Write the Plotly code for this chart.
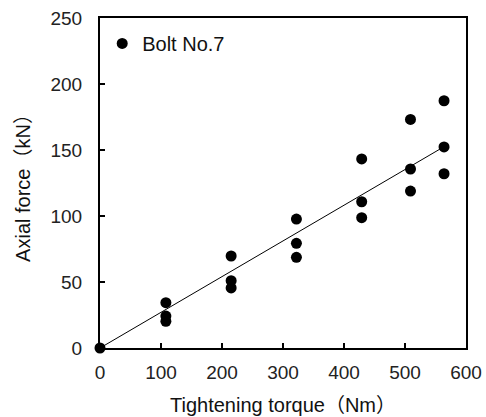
import plotly.graph_objects as go

torque = [0, 108, 108, 108, 215, 215, 215, 322, 322, 322, 429, 429, 429, 509, 509, 509, 564, 564, 564]
axial = [0, 34.3, 24.2, 20.2, 69.7, 51, 45.5, 97.7, 79.3, 68.7, 143.2, 110.8, 98.7, 173.2, 135.6, 118.9, 187.3, 152.3, 132]
trend_x = [0, 564]
trend_y = [0, 152.5]
x_ticks = [0, 100, 200, 300, 400, 500, 600]
y_ticks = [0, 50, 100, 150, 200, 250]

FONT = "Liberation Sans, Noto Sans CJK JP"

fig = go.Figure()
fig.add_trace(go.Scatter(x=trend_x, y=trend_y, mode="lines",
                         line=dict(color="black", width=1), showlegend=False,
                         hoverinfo="skip"))
fig.add_trace(go.Scatter(x=torque, y=axial, mode="markers", name="Bolt No.7",
                         marker=dict(color="black", size=11), cliponaxis=False))

fig.update_layout(
    width=486, height=417,
    margin=dict(l=100, r=20, t=18, b=69, autoexpand=False),
    paper_bgcolor="white", plot_bgcolor="white",
    font=dict(family=FONT, size=19, color="#222"),
    legend=dict(x=0.006, y=0.982, xanchor="left", yanchor="top",
                bgcolor="rgba(0,0,0,0)", font=dict(size=20, color="#111"),
                itemwidth=30, tracegroupgap=0),
    showlegend=True,
)
fig.update_xaxes(range=[0, 600], tickvals=x_ticks, ticks="inside", ticklen=5,
                 tickwidth=1.5, tickcolor="black", showline=True, linewidth=2,
                 linecolor="black", mirror=True, showgrid=False, zeroline=False,
                 ticklabelstandoff=6, automargin=False,
                 title=dict(text="Tightening torque（Nm）", standoff=16,
                            font=dict(size=20, color="#111")))
fig.update_yaxes(range=[0, 250], tickvals=y_ticks, ticks="inside", ticklen=5,
                 tickwidth=1.5, tickcolor="black", showline=True, linewidth=2,
                 linecolor="black", mirror=True, showgrid=False, zeroline=False,
                 ticklabelstandoff=12, automargin=False,
                 title=dict(text="Axial force（kN）", standoff=14,
                            font=dict(size=20, color="#111")))

fig.write_html("out.html")
